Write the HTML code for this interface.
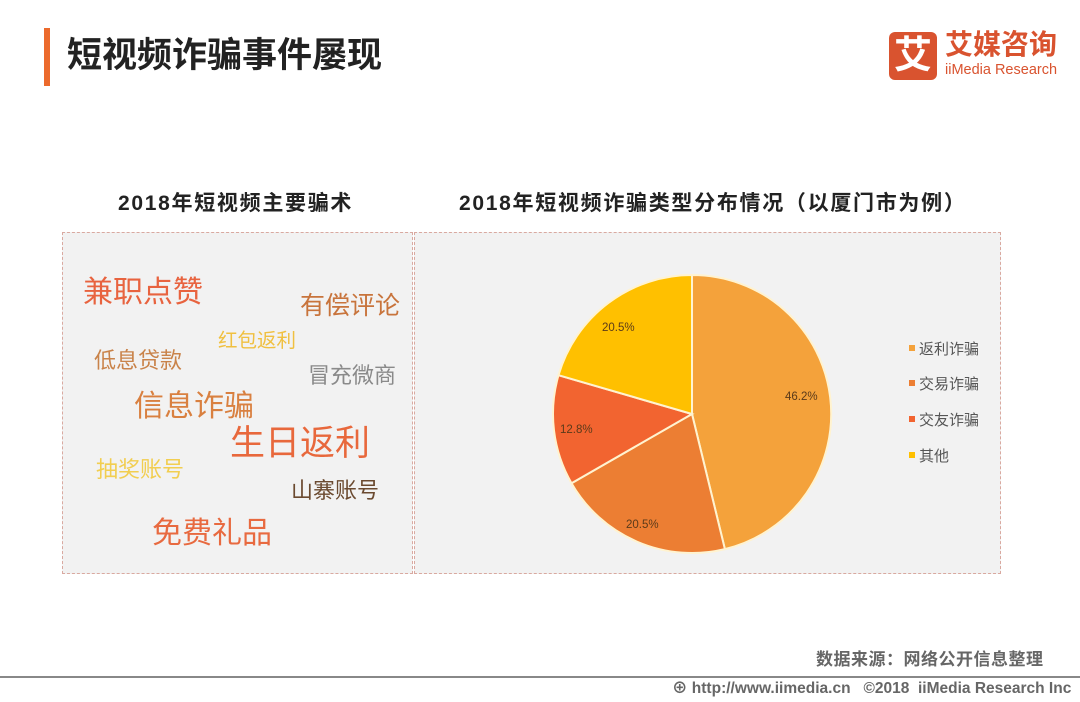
<!DOCTYPE html>
<html><head><meta charset="utf-8"><style>
body{margin:0;width:1080px;height:702px;background:#fff;position:relative;overflow:hidden;font-family:"Liberation Sans","Noto Sans CJK SC",sans-serif}
.a{position:absolute;white-space:nowrap;line-height:1}
.panel{position:absolute;background:#f2f2f2;border:1px dashed #d9a9a0;box-sizing:border-box}
</style></head><body>
<div class="a" style="left:44px;top:28px;width:6px;height:58px;background:#EC6A2C"></div>
<div class="a" style="left:67px;top:38px;font-size:35px;font-weight:bold;color:#222">短视频诈骗事件屡现</div>
<div class="a" style="left:889px;top:32px;width:48px;height:48px;background:#D9532F;border-radius:6px;color:#fff;font-size:38px;font-weight:bold;text-align:center;line-height:48px">艾</div>
<div class="a" style="left:945px;top:31px;font-size:28px;font-weight:bold;color:#D9532F">艾媒咨询</div>
<div class="a" style="left:945px;top:63px;font-size:14.5px;color:#D9532F">iiMedia Research</div>

<div class="a" style="left:118px;top:193px;font-size:21px;font-weight:bold;color:#222;letter-spacing:1.7px">2018年短视频主要骗术</div>
<div class="a" style="left:459px;top:193px;font-size:21px;font-weight:bold;color:#222;letter-spacing:1.7px">2018年短视频诈骗类型分布情况（以厦门市为例）</div>

<div class="panel" style="left:62px;top:232px;width:351px;height:342px"></div>
<div class="panel" style="left:414px;top:232px;width:587px;height:342px"></div>

<div class="a" style="left:83px;top:278px;font-size:30px;color:#E8633F">兼职点赞</div>
<div class="a" style="left:300px;top:294px;font-size:25px;color:#C8743C">有偿评论</div>
<div class="a" style="left:218px;top:332px;font-size:19.5px;color:#F0C040">红包返利</div>
<div class="a" style="left:94px;top:350px;font-size:22px;color:#C9834A">低息贷款</div>
<div class="a" style="left:308px;top:365px;font-size:22px;color:#8A8A8A">冒充微商</div>
<div class="a" style="left:134px;top:392px;font-size:30px;color:#D98040">信息诈骗</div>
<div class="a" style="left:230px;top:426px;font-size:35px;color:#E8683C">生日返利</div>
<div class="a" style="left:96px;top:459px;font-size:22px;color:#F2CE50">抽奖账号</div>
<div class="a" style="left:291px;top:480px;font-size:22px;color:#6B4A30">山寨账号</div>
<div class="a" style="left:152px;top:519px;font-size:30px;color:#E86A40">免费礼品</div>

<svg class="a" style="left:0;top:0" width="1080" height="702">
<g stroke="#FFF3D0" stroke-width="2">
<path d="M692,414 L692,275 A139,139 0 0 1 724.9,549.1 Z" fill="#F4A23B"/>
<path d="M692,414 L724.9,549.1 A139,139 0 0 1 571.5,483.2 Z" fill="#EC7E33"/>
<path d="M692,414 L571.5,483.2 A139,139 0 0 1 558.5,375.2 Z" fill="#F26430"/>
<path d="M692,414 L558.5,375.2 A139,139 0 0 1 692,275 Z" fill="#FFC000"/>
</g>
<g font-family="Liberation Sans, sans-serif" font-size="11.5" fill="#5a3a1a">
<text x="785" y="400">46.2%</text>
<text x="626" y="528">20.5%</text>
<text x="560" y="433">12.8%</text>
<text x="602" y="331">20.5%</text>
</g>
<rect x="909" y="345" width="6" height="6" fill="#F4A23B"/>
<rect x="909" y="380" width="6" height="6" fill="#EC7E33"/>
<rect x="909" y="416" width="6" height="6" fill="#F26430"/>
<rect x="909" y="452" width="6" height="6" fill="#FFC000"/>
<g font-family="Liberation Sans, Noto Sans CJK SC, sans-serif" font-size="15" fill="#555">
<text x="919" y="354">返利诈骗</text>
<text x="919" y="389">交易诈骗</text>
<text x="919" y="425">交友诈骗</text>
<text x="919" y="461">其他</text>
</g>
<line x1="0" y1="677" x2="1080" y2="677" stroke="#888" stroke-width="2"/>
</svg>
<div class="a" style="left:816px;top:651px;font-size:17px;font-weight:bold;color:#666;letter-spacing:0.5px">数据来源：网络公开信息整理</div>
<div class="a" style="left:672px;top:681px;font-size:15.5px;font-weight:bold;color:#666">⊕ http://www.iimedia.cn &nbsp;&nbsp;©2018 &nbsp;iiMedia Research Inc</div>
</body></html>
